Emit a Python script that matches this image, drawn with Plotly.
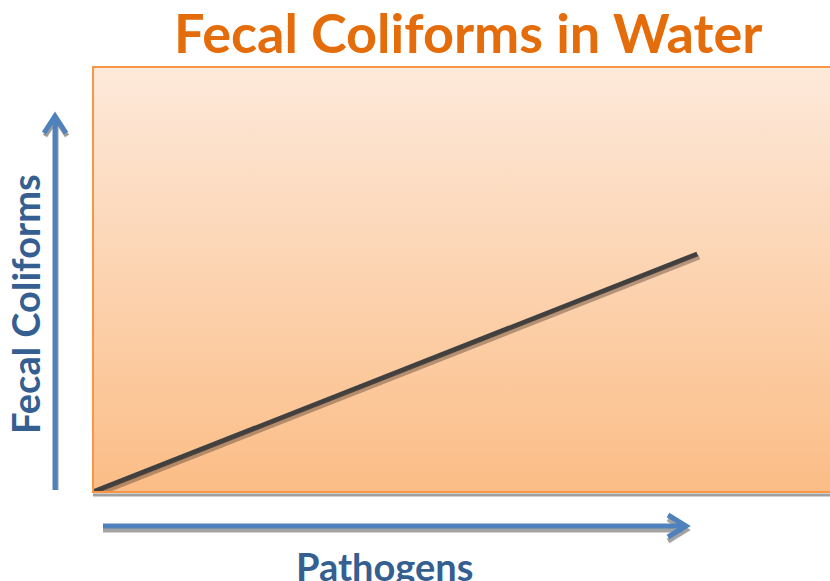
import plotly.graph_objects as go

# Relationship sketch: fecal coliform level rising with pathogen level
pathogens = [0, 82]
fecal_coliforms = [0, 56]

title_text = "Fecal Coliforms in Water"
x_label = "Pathogens"
y_label = "Fecal Coliforms"

W, H = 830, 581
L, R, T, B = 93, 0, 67, 89
PW, PH = W - L - R, H - T - B


def px(x):
    return (x - L) / PW


def py(y):
    return (H - B - y) / PH


ORANGE = "#F79646"
BLUE = "#4F81BD"
LABEL_BLUE = "#365F91"
TITLE_ORANGE = "#E46C0A"

fig = go.Figure()

# Peach-to-orange gradient panel behind the data
fig.add_trace(go.Scatter(
    x=[0, 100, 100, 0, 0], y=[0, 0, 100, 100, 0],
    mode="lines", line=dict(width=0), fill="toself",
    fillgradient=dict(type="vertical",
                      colorscale=[[0, "#FBBD86"], [1, "#FDE9DA"]]),
    hoverinfo="skip", showlegend=False,
))

# Soft drop shadow of the trend line, on a slightly shifted twin axis
fig.add_trace(go.Scatter(
    x=pathogens, y=fecal_coliforms, mode="lines",
    line=dict(color="rgba(95,70,55,0.45)", width=5),
    xaxis="x2", yaxis="y2", hoverinfo="skip", showlegend=False,
))

# Trend line
fig.add_trace(go.Scatter(
    x=pathogens, y=fecal_coliforms, mode="lines",
    line=dict(color="#404040", width=5),
    showlegend=False,
))

shapes = []

# Panel border with a grey shadow along the bottom edge
shapes.append(dict(type="line", xref="paper", yref="paper",
                   x0=px(93), x1=px(830), y0=py(495), y1=py(495),
                   line=dict(color="#A0A0A0", width=3), layer="below"))
shapes.append(dict(type="rect", xref="paper", yref="paper",
                   x0=px(93), x1=px(831), y0=py(492), y1=py(67),
                   line=dict(color=ORANGE, width=2)))


def arrow(x0, y0, x1, y1, head, color, width):
    out = [dict(type="line", xref="paper", yref="paper",
                x0=px(x0), y0=py(y0), x1=px(x1), y1=py(y1),
                line=dict(color=color, width=width))]
    path = "M {} {} L {} {} L {} {}".format(
        px(head[0][0]), py(head[0][1]), px(head[1][0]), py(head[1][1]),
        px(head[2][0]), py(head[2][1]))
    out.append(dict(type="path", xref="paper", yref="paper", path=path,
                    line=dict(color=color, width=width)))
    return out


def shifted(pts, dx, dy):
    return [(a + dx, b + dy) for a, b in pts]


# Vertical axis arrow
v_head = [(44, 133), (55, 116), (66, 133)]
shapes += arrow(56, 490, 56, 120, shifted(v_head, 1, 3), "rgba(130,130,130,0.8)", 5)
shapes += arrow(55, 490, 55, 118, v_head, BLUE, 5)

# Horizontal axis arrow
h_head = [(668, 515), (686, 526), (668, 537)]
shapes += arrow(103, 530, 683, 530, shifted(h_head, 0, 4), "rgba(140,140,140,0.8)", 5)
shapes += arrow(103, 526, 684, 526, h_head, BLUE, 5)

annotations = [
    dict(text="<b>%s</b>" % title_text, xref="paper", yref="paper",
         x=px(468), y=py(33), xanchor="center", yanchor="middle",
         showarrow=False,
         font=dict(family="Lato", size=54, color=TITLE_ORANGE)),
    dict(text="<b>%s</b>" % y_label, xref="paper", yref="paper",
         x=px(25), y=py(304), xanchor="center", yanchor="middle",
         textangle=-90, showarrow=False,
         font=dict(family="Lato", size=38, color=LABEL_BLUE)),
    dict(text="<b>%s</b>" % x_label, xref="paper", yref="paper",
         x=px(384), y=py(566), xanchor="center", yanchor="middle",
         showarrow=False,
         font=dict(family="Lato", size=38, color=LABEL_BLUE)),
]

axis_style = dict(showgrid=False, zeroline=False, showticklabels=False,
                  showline=False, ticks="", fixedrange=True)
dx_units = 2 / PW * 100
dy_units = 3 / PH * 100

fig.update_layout(
    width=W, height=H,
    margin=dict(l=L, r=R, t=T, b=B, pad=0),
    paper_bgcolor="white", plot_bgcolor="rgba(0,0,0,0)",
    xaxis=dict(range=[0, 100], **axis_style),
    yaxis=dict(range=[0, 100], **axis_style),
    xaxis2=dict(range=[-dx_units, 100 - dx_units], overlaying="x",
                anchor="y2", **axis_style),
    yaxis2=dict(range=[dy_units, 100 + dy_units], overlaying="y",
                anchor="x2", **axis_style),
    shapes=shapes,
    annotations=annotations,
    showlegend=False,
)

fig.write_html("out.html", config={"displayModeBar": False})
